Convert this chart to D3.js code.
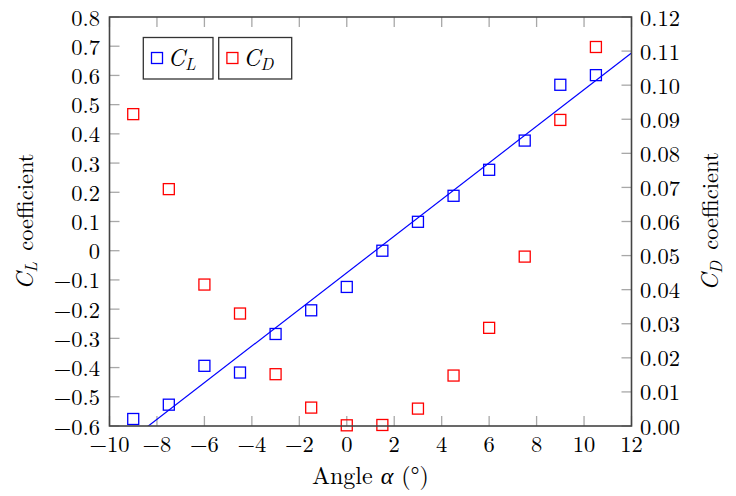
<!DOCTYPE html>
<html>
<head>
<meta charset="utf-8">
<script src="https://cdn.jsdelivr.net/npm/d3@7"></script>
<style>
  html, body { margin: 0; padding: 0; background: #fff; }
  svg { display: block; }
</style>
</head>
<body>
<svg id="chart" width="736" height="496" font-family="'Latin Modern Roman', 'CMU Serif', 'Liberation Serif', serif"></svg>
<script>
// Measured lift and drag coefficients versus angle of attack
const angles = [-9, -7.5, -6, -4.5, -3, -1.5, 0, 1.5, 3, 4.5, 6, 7.5, 9, 10.5];
const liftCoeff = [-0.576, -0.527, -0.394, -0.417, -0.285, -0.204, -0.124, 0.0, 0.099, 0.188, 0.277, 0.377, 0.568, 0.601];
const dragCoeff = [0.0915, 0.0695, 0.0415, 0.033, 0.0152, 0.0054, 0.0002, 0.0003, 0.0051, 0.0148, 0.0288, 0.0497, 0.0898, 0.1112];

// Linear fit of the lift curve (end points)
const fitAngles = [-10, 12];
const fitLift = [-0.7026, 0.677];

// Tick values
const xTicks = [-10, -8, -6, -4, -2, 0, 2, 4, 6, 8, 10, 12];
const clTicks = [-0.6, -0.5, -0.4, -0.3, -0.2, -0.1, 0, 0.1, 0.2, 0.3, 0.4, 0.5, 0.6, 0.7, 0.8];
const cdTicks = [0, 0.01, 0.02, 0.03, 0.04, 0.05, 0.06, 0.07, 0.08, 0.09, 0.10, 0.11, 0.12];

const plot = { left: 109.5, right: 631.5, top: 17, bottom: 426 };
const fontSize = 22.5;
const titleSize = 24;
const textColor = "#000";
const blue = "#0000ff", red = "#ff0000";
const tickColor = "#a8a8a8", axisColor = "#444";
const tickLen = 10;
const markerSize = 11;

const svg = d3.select("#chart");

const x = d3.scaleLinear().domain([-10, 12]).range([plot.left, plot.right]);
const yL = d3.scaleLinear().domain([-0.6, 0.8]).range([plot.bottom, plot.top]);
const yD = d3.scaleLinear().domain([0, 0.12]).range([plot.bottom, plot.top]);

const minus = s => s.replace("-", "\u2212");
const fmtX = d => minus(d3.format("d")(d));
const fmtL = d => Math.abs(d) < 1e-9 ? "0" : minus(d3.format(".1f")(d));
const fmtD = d => d3.format(".2f")(d);

svg.append("defs").append("clipPath").attr("id", "plotClip")
  .append("rect")
  .attr("x", plot.left).attr("y", plot.top)
  .attr("width", plot.right - plot.left).attr("height", plot.bottom - plot.top);

// Inward tick marks
const ticks = svg.append("g").attr("stroke", tickColor).attr("stroke-width", 1.3);
ticks.selectAll(".xb").data(xTicks).join("line")
  .attr("x1", d => x(d)).attr("x2", d => x(d))
  .attr("y1", plot.bottom).attr("y2", plot.bottom - tickLen);
ticks.selectAll(".xt").data(xTicks).join("line")
  .attr("x1", d => x(d)).attr("x2", d => x(d))
  .attr("y1", plot.top).attr("y2", plot.top + tickLen);
ticks.selectAll(".yl").data(clTicks).join("line")
  .attr("x1", plot.left).attr("x2", plot.left + tickLen)
  .attr("y1", d => yL(d)).attr("y2", d => yL(d));
ticks.selectAll(".yr").data(cdTicks).join("line")
  .attr("x1", plot.right).attr("x2", plot.right - tickLen)
  .attr("y1", d => yD(d)).attr("y2", d => yD(d));

// Fitted lift line
svg.append("path")
  .attr("clip-path", "url(#plotClip)")
  .datum(fitAngles.map((a, i) => [a, fitLift[i]]))
  .attr("fill", "none").attr("stroke", blue).attr("stroke-width", 1.2)
  .attr("d", d3.line().x(d => x(d[0])).y(d => yL(d[1])));

// Markers
const half = markerSize / 2;
svg.append("g").selectAll("rect").data(angles).join("rect")
  .attr("x", (d) => x(d) - half).attr("y", (d, i) => yD(dragCoeff[i]) - half)
  .attr("width", markerSize).attr("height", markerSize)
  .attr("fill", "none").attr("stroke", red).attr("stroke-width", 1.3);
svg.append("g").selectAll("rect").data(angles).join("rect")
  .attr("x", (d) => x(d) - half).attr("y", (d, i) => yL(liftCoeff[i]) - half)
  .attr("width", markerSize).attr("height", markerSize)
  .attr("fill", "none").attr("stroke", blue).attr("stroke-width", 1.3);

// Axis frame
svg.append("rect")
  .attr("x", plot.left).attr("y", plot.top)
  .attr("width", plot.right - plot.left).attr("height", plot.bottom - plot.top)
  .attr("fill", "none").attr("stroke", axisColor).attr("stroke-width", 1.6);

// Tick labels
const labels = svg.append("g").attr("font-size", fontSize).attr("fill", textColor);
labels.selectAll(".lx").data(xTicks).join("text")
  .attr("x", d => x(d)).attr("y", plot.bottom + 26)
  .attr("text-anchor", "middle").text(fmtX);
labels.selectAll(".ll").data(clTicks).join("text")
  .attr("x", plot.left - 9.5).attr("y", d => yL(d) + 8.5)
  .attr("text-anchor", "end").text(fmtL);
labels.selectAll(".lr").data(cdTicks).join("text")
  .attr("x", plot.right + 8.5).attr("y", d => yD(d) + 8.5)
  .attr("text-anchor", "start").text(fmtD);

// Axis titles
const xTitle = svg.append("text").attr("font-size", titleSize).attr("fill", textColor)
  .attr("x", (plot.left + plot.right) / 2).attr("y", 484).attr("text-anchor", "middle");
xTitle.append("tspan").text("Angle ");
xTitle.append("tspan").attr("font-style", "italic").text("α");
xTitle.append("tspan").text(" (°)");

function coeffTitle(cx, sub) {
  const t = svg.append("text").attr("font-size", fontSize).attr("fill", textColor)
    .attr("text-anchor", "middle")
    .attr("transform", `translate(${cx},${(plot.top + plot.bottom) / 2}) rotate(-90)`);
  t.append("tspan").attr("font-style", "italic").attr("font-size", titleSize).text("C");
  t.append("tspan").attr("font-style", "italic").attr("font-size", 16.5).attr("dy", 4).text(sub);
  t.append("tspan").attr("dy", -4).text("\u2002coefficient");
}
coeffTitle(32.5, "L");
coeffTitle(717.5, "D");

// Legend
const legendItems = [
  { name: "L", color: blue, x: 143.3, w: 69.7 },
  { name: "D", color: red, x: 218.7, w: 73 }
];
const leg = svg.append("g");
legendItems.forEach(it => {
  leg.append("rect").attr("x", it.x).attr("y", 37.5).attr("width", it.w).attr("height", 41.5)
    .attr("fill", "#fff").attr("stroke", "#333").attr("stroke-width", 1.3);
  leg.append("rect").attr("x", it.x + 8.2).attr("y", 52.5)
    .attr("width", markerSize).attr("height", markerSize)
    .attr("fill", "none").attr("stroke", it.color).attr("stroke-width", 1.3);
  const t = leg.append("text").attr("font-size", 24).attr("fill", textColor)
    .attr("x", it.x + 24.5).attr("y", 65.5);
  t.append("tspan").attr("font-style", "italic").text("C");
  t.append("tspan").attr("font-style", "italic").attr("font-size", 17).attr("dy", 4).text(it.name);
});
</script>
</body>
</html>
